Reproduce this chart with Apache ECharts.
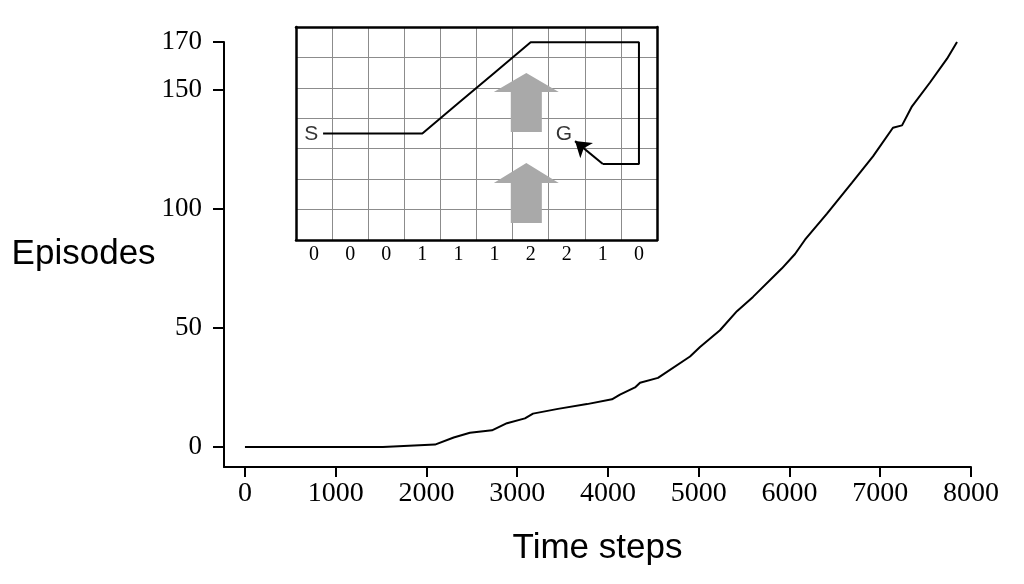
<!DOCTYPE html>
<html>
<head>
<meta charset="utf-8">
<script src="https://cdn.jsdelivr.net/npm/echarts@6/dist/echarts.min.js"></script>
<style>
    html, body {margin: 0; padding: 0; background: #fff;}
    #main {width: 1024px; height: 584px;}
</style>
</head>
<body>
<div id="main"></div>
<script>
// learning curve (time steps vs completed episodes)
var steps = [0, 1520, 2094, 2300, 2479, 2722, 2887, 3085, 3174, 3449, 3769, 4044, 4132, 4298, 4353, 4551,
    4904, 5014, 5234, 5421, 5598, 5917, 6061, 6171, 6413, 6689, 6920, 7140, 7240, 7350, 7548, 7736, 7846];
var episodes = [0, 0, 1, 4, 6, 7, 10, 12, 14, 16, 18, 20, 22, 25, 27, 29,
    38, 42, 49, 57, 63, 75, 81, 87, 98, 111, 122, 134, 135, 143, 153, 163, 170];
var xTicks = [0, 1000, 2000, 3000, 4000, 5000, 6000, 7000, 8000];
var yTicks = [0, 50, 100, 150, 170];

// inset gridworld, cells 10 x 7, coordinates in cell units
var windStrength = ['0', '0', '0', '1', '1', '1', '2', '2', '1', '0'];
var pathX = [0.75, 3.5, 4.5, 5.5, 6.5, 9.5, 9.5, 8.5];
var pathY = [3.5, 3.5, 4.5, 5.5, 6.5, 6.5, 2.5, 2.5];
var lastMove = [[8.5, 2.5], [7.73, 3.25]];
var cellNames = ['S', 'G'];
var cellX = [0.42, 7.42];
var cellY = [3.47, 3.47];
// wind arrows: column centre, shaft bottom, head base, tip
var windArrows = [[6.38, 3.55, 4.86, 5.49], [6.38, 0.56, 1.87, 2.53]];

var curve = [];
for (var i = 0; i < steps.length; i++) {
    curve.push([steps[i], episodes[i]]);
}
var path = [];
for (var j = 0; j < pathX.length; j++) {
    path.push([pathX[j], pathY[j]]);
}
var cells = [];
for (var k = 0; k < cellNames.length; k++) {
    cells.push({name: cellNames[k], value: [cellX[k], cellY[k]]});
}

var serif = '"Liberation Serif", "Times New Roman", serif';
var sans = '"Liberation Sans", Arial, sans-serif';
var plain = function (v) { return String(v); };
var frame = {show: true, onZero: false, lineStyle: {color: '#000', width: 2.5}};
var cellLines = {show: true, lineStyle: {color: '#8c8c8c', width: 1}};

var myChart = echarts.init(document.getElementById('main'));
var option = {
    animation: false,
    backgroundColor: '#fff',
    grid: [
        {left: 224, top: 42, right: 53, bottom: 117},
        {left: 296, top: 27, width: 361, height: 213, show: true,
            borderWidth: 0, backgroundColor: '#fff'}
    ],
    xAxis: [
        {
            type: 'value', gridIndex: 0, min: -231, max: 8000,
            name: 'Time steps', nameLocation: 'middle', nameGap: 64,
            nameTextStyle: {fontFamily: sans, fontSize: 35, color: '#000'},
            axisLine: {show: true, onZero: false, lineStyle: {color: '#000', width: 2}},
            axisTick: {show: true, length: 10, customValues: xTicks, lineStyle: {color: '#000', width: 2}},
            axisLabel: {customValues: xTicks, formatter: plain, margin: 13, fontFamily: serif, fontSize: 28, color: '#000'},
            splitLine: {show: false}
        },
        {
            type: 'value', gridIndex: 1, min: 0, max: 10, interval: 1, position: 'top',
            axisLine: frame, axisTick: {show: false}, axisLabel: {show: false},
            splitLine: cellLines
        },
        {
            type: 'category', gridIndex: 1, position: 'bottom', data: windStrength,
            axisLine: frame, axisTick: {show: false}, splitLine: {show: false},
            axisLabel: {margin: 5, fontFamily: serif, fontSize: 20, color: '#000'}
        }
    ],
    yAxis: [
        {
            type: 'value', gridIndex: 0, min: -8.4, max: 170,
            name: 'Episodes', nameLocation: 'middle', nameGap: 67, nameRotate: 0,
            nameTextStyle: {fontFamily: sans, fontSize: 35, color: '#000'},
            axisLine: {show: true, onZero: false, lineStyle: {color: '#000', width: 2}},
            axisTick: {show: true, length: 11, customValues: yTicks, lineStyle: {color: '#000', width: 2}},
            axisLabel: {customValues: yTicks, formatter: plain, margin: 22, fontFamily: serif, fontSize: 27, color: '#000'},
            splitLine: {show: false}
        },
        {
            type: 'value', gridIndex: 1, min: 0, max: 7, interval: 1, position: 'left',
            axisLine: frame, axisTick: {show: false}, axisLabel: {show: false},
            splitLine: cellLines
        },
        {
            type: 'value', gridIndex: 1, min: 0, max: 7, interval: 1, position: 'right',
            axisLine: frame, axisTick: {show: false}, axisLabel: {show: false},
            splitLine: {show: false}
        }
    ],
    series: [
        {
            type: 'line', xAxisIndex: 0, yAxisIndex: 0, data: curve,
            showSymbol: false, symbol: 'none',
            lineStyle: {color: '#000', width: 2}
        },
        {
            // grey wind arrows
            type: 'custom', xAxisIndex: 1, yAxisIndex: 1, z: 7, data: windArrows,
            renderItem: function (params, api) {
                var x = api.value(0), bottom = api.value(1), base = api.value(2), tip = api.value(3);
                var pts = [
                    api.coord([x - 0.43, bottom]), api.coord([x - 0.43, base]),
                    api.coord([x - 0.9, base]), api.coord([x, tip]),
                    api.coord([x + 0.9, base]), api.coord([x + 0.43, base]),
                    api.coord([x + 0.43, bottom])
                ];
                return {type: 'polygon', shape: {points: pts}, style: {fill: '#a9a9a9'}};
            }
        },
        {
            type: 'line', xAxisIndex: 1, yAxisIndex: 1, z: 8, data: path,
            symbol: 'none', lineStyle: {color: '#000', width: 2}
        },
        {
            type: 'lines', coordinateSystem: 'cartesian2d', xAxisIndex: 1, yAxisIndex: 1, z: 8,
            symbol: ['none', 'arrow'], symbolSize: [10, 15],
            lineStyle: {color: '#000', width: 2, opacity: 1},
            data: [{coords: lastMove}]
        },
        {
            type: 'scatter', xAxisIndex: 1, yAxisIndex: 1, z: 9, data: cells,
            symbolSize: 0,
            label: {show: true, position: 'inside', formatter: '{b}', fontFamily: sans, fontSize: 21, color: '#000'}
        }
    ]
};
myChart.setOption(option);
</script>
</body>
</html>
